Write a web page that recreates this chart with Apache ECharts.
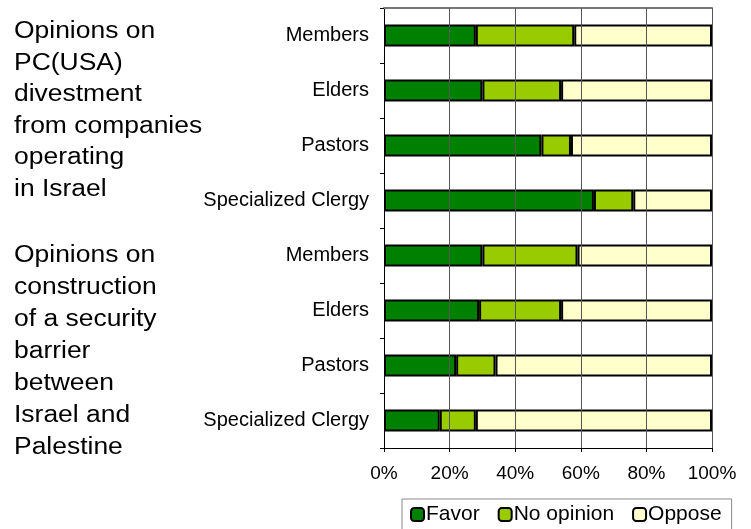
<!DOCTYPE html>
<html>
<head>
<meta charset="utf-8">
<script src="https://cdn.jsdelivr.net/npm/echarts@6/dist/echarts.min.js"></script>
<style>
  html, body { margin: 0; padding: 0; background: #fff; }
  #chart { width: 751px; height: 529px; }
</style>
</head>
<body>
<div id="chart"></div>
<script>
// survey groups, top to bottom (divestment block, then barrier block)
const groups = [
  "Members", "Elders", "Pastors", "Specialized Clergy",
  "Members", "Elders", "Pastors", "Specialized Clergy",
];
const favor = [28, 30, 48, 64, 30, 29, 22, 17];
const noOpinion = [30, 24, 9, 12, 29, 25, 12, 11];
const oppose = [42, 46, 43, 24, 41, 46, 66, 72];
const gridTicks = [20, 40, 60, 80, 100];

const FONT = "'Liberation Sans', Arial, sans-serif";

const chart = echarts.init(document.getElementById("chart"), null, { renderer: "canvas" });

function bar(name, data, color) {
  return {
    name,
    type: "bar",
    stack: "all",
    data,
    barWidth: 22,
    z: 3,
    itemStyle: { color, borderColor: "#000", borderWidth: 2 },
    emphasis: { disabled: true },
  };
}

chart.setOption({
  backgroundColor: "#fff",
  animation: false,
  grid: { left: 384, right: 39, top: 8, bottom: 81 },
  xAxis: [
    {
      type: "value",
      min: 0, max: 100, interval: 20,
      axisLine: { show: true, lineStyle: { color: "#000", width: 1 } },
      axisTick: { show: true, length: 4, lineStyle: { color: "#000" } },
      splitLine: { show: true, lineStyle: { color: "#555", width: 1 } },
      axisLabel: {
        formatter: "{value}%", color: "#000", fontSize: 19, margin: 16,
        fontFamily: FONT,
      },
    },
    {
      // top edge of the plot frame
      type: "value",
      position: "top",
      min: 0, max: 100, interval: 20,
      axisLine: { show: true, lineStyle: { color: "#777", width: 2 } },
      axisTick: { show: false },
      axisLabel: { show: false },
      splitLine: { show: false },
    },
  ],
  yAxis: {
    type: "category",
    inverse: true,
    data: groups,
    axisLine: { show: true, lineStyle: { color: "#000", width: 1 } },
    axisTick: { show: true, length: 4, alignWithLabel: false, lineStyle: { color: "#000" } },
    axisLabel: { color: "#000", fontSize: 20, margin: 15, fontFamily: FONT },
  },
  legend: {
    left: 402, top: 499,
    padding: [5, 10, 10, 8],
    itemGap: 18,
    itemWidth: 13, itemHeight: 13,
    borderColor: "#888", borderWidth: 1,
    textStyle: { color: "#000", fontSize: 21, fontFamily: FONT, padding: [0, 0, 0, -3] },
    itemStyle: { borderColor: "#000", borderWidth: 2 },
    selectedMode: false,
    data: ["Favor", "No opinion", "Oppose"],
  },
  graphic: [
    {
      type: "text", x: 14, y: 16, scaleX: 1.15,
      style: {
        text: "Opinions on\nPC(USA)\ndivestment\nfrom companies\noperating\nin Israel",
        font: "23px " + FONT, lineHeight: 31.5, fill: "#000",
      },
    },
    {
      type: "text", x: 14, y: 240, scaleX: 1.15,
      style: {
        text: "Opinions on\nconstruction\nof a security\nbarrier\nbetween\nIsrael and\nPalestine",
        font: "23px " + FONT, lineHeight: 32, fill: "#000",
      },
    },
  ],
  series: [
    {
      // carrier for the vertical gridlines, drawn under the bars
      name: "grid",
      type: "line",
      data: [],
      z: 1,
      silent: true,
      markLine: {
        silent: true,
        symbol: ["none", "none"],
        label: { show: false },
        lineStyle: { color: "#555", width: 1, type: "solid" },
        emphasis: { disabled: true },
        data: gridTicks.map((v) => ({ xAxis: v })),
      },
    },
    bar("Favor", favor, "#008000"),
    bar("No opinion", noOpinion, "#99CC00"),
    bar("Oppose", oppose, "#FFFFCC"),
  ],
});

window.addEventListener("resize", () => chart.resize());
</script>
</body>
</html>
